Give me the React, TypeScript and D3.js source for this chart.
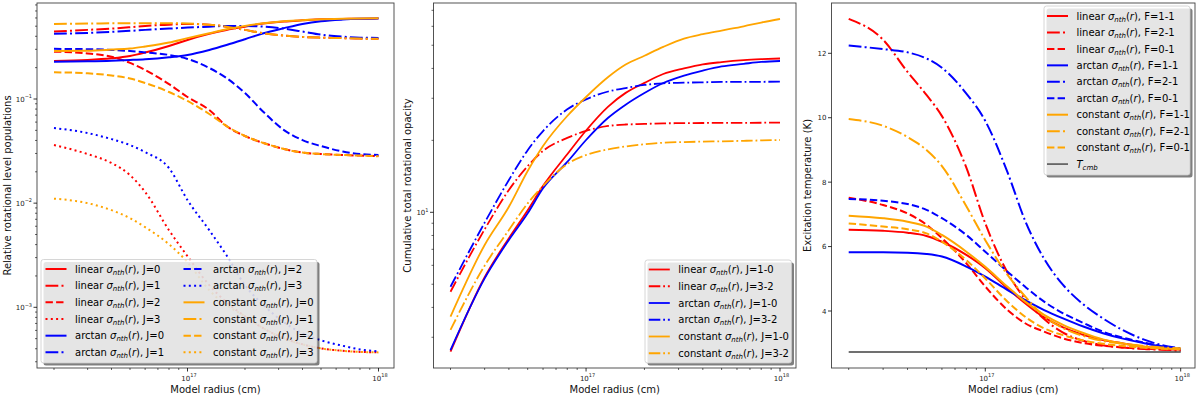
import React from "react";
import * as d3 from "d3";

// ---------------- DATA ----------------
const RADII = [2e16, 3e16, 4e16, 5e16, 6e16, 8e16, 1e17, 1.3e17, 1.6e17, 2e17, 2.5e17, 3.2e17, 4e17, 5e17, 6.5e17, 8e17, 1e18];

// Panel 1: relative rotational level populations
const POP_LINEAR_J0 = [0.232, 0.237, 0.246, 0.259, 0.279, 0.323, 0.369, 0.422, 0.46, 0.495, 0.53, 0.555, 0.569, 0.582, 0.587, 0.591, 0.595];
const POP_LINEAR_J1 = [0.444, 0.461, 0.474, 0.489, 0.503, 0.517, 0.526, 0.517, 0.495, 0.461, 0.428, 0.406, 0.394, 0.388, 0.384, 0.38, 0.379];
const POP_LINEAR_J2 = [0.285, 0.274, 0.254, 0.222, 0.19, 0.139, 0.1045, 0.0784, 0.055, 0.0441, 0.0378, 0.0331, 0.0306, 0.0296, 0.029, 0.0286, 0.0283];
const POP_LINEAR_J3 = [0.0361, 0.0296, 0.0243, 0.0186, 0.0128, 0.0055, 0.00309, 0.00163, 0.00112, 0.000819, 0.000628, 0.000504, 0.000441, 0.000403, 0.000382, 0.000373, 0.000369];
const POP_ARCTAN_J0 = [0.228, 0.23, 0.233, 0.237, 0.241, 0.252, 0.265, 0.296, 0.33, 0.375, 0.428, 0.479, 0.526, 0.559, 0.579, 0.588, 0.592];
const POP_ARCTAN_J1 = [0.422, 0.431, 0.441, 0.451, 0.461, 0.474, 0.485, 0.495, 0.503, 0.503, 0.495, 0.474, 0.444, 0.415, 0.397, 0.388, 0.386];
const POP_ARCTAN_J2 = [0.303, 0.301, 0.296, 0.289, 0.28, 0.265, 0.2425, 0.1987, 0.159, 0.114, 0.075, 0.0503, 0.0403, 0.0353, 0.0313, 0.0296, 0.029];
const POP_ARCTAN_J3 = [0.0526, 0.0471, 0.0412, 0.0361, 0.0309, 0.0217, 0.0107, 0.0055, 0.00316, 0.00163, 0.00105, 0.000718, 0.000562, 0.000482, 0.000427, 0.000394, 0.000378];
const POP_CONSTANT_J0 = [0.289, 0.291, 0.298, 0.305, 0.319, 0.348, 0.384, 0.428, 0.468, 0.503, 0.535, 0.559, 0.571, 0.584, 0.588, 0.592, 0.597];
const POP_CONSTANT_J1 = [0.526, 0.53, 0.535, 0.535, 0.535, 0.535, 0.53, 0.517, 0.495, 0.461, 0.428, 0.406, 0.394, 0.388, 0.384, 0.38, 0.378];
const POP_CONSTANT_J2 = [0.1806, 0.1766, 0.1683, 0.1574, 0.1426, 0.1167, 0.0957, 0.0718, 0.055, 0.0441, 0.0378, 0.0331, 0.0306, 0.0296, 0.029, 0.0286, 0.0282];
const POP_CONSTANT_J3 = [0.01105, 0.01, 0.00857, 0.00718, 0.00588, 0.00403, 0.00271, 0.00146, 0.00105, 0.000819, 0.000628, 0.000504, 0.000441, 0.000403, 0.000382, 0.000373, 0.000369];

// Panel 2: cumulative total rotational opacity
const TAU_LINEAR_10 = [2.61, 5.35, 7.79, 10.2, 12.9, 17.5, 22.0, 27.7, 31.6, 34.8, 37.9, 40.0, 41.6, 42.5, 43.3, 43.7, 44.0];
const TAU_LINEAR_32 = [4.65, 8.49, 12.4, 15.6, 18.07, 20.48, 21.9, 22.97, 23.3, 23.42, 23.57, 23.6, 23.64, 23.66, 23.68, 23.7, 23.71];
const TAU_ARCTAN_10 = [2.65, 5.29, 7.66, 9.9, 12.6, 16.24, 20.07, 24.86, 28.2, 31.56, 34.75, 37.35, 39.2, 40.8, 41.8, 42.56, 42.97];
const TAU_ARCTAN_32 = [4.88, 9.05, 13.65, 18.19, 21.88, 26.98, 29.7, 32.02, 33.1, 34.1, 34.65, 34.86, 34.99, 35.1, 35.13, 35.16, 35.2];
const TAU_CONSTANT_10 = [3.66, 7.3, 10.55, 14.89, 18.94, 25.29, 30.37, 36.8, 41.5, 45.2, 49.2, 53.3, 55.6, 57.6, 60.0, 62.2, 64.4];
const TAU_CONSTANT_32 = [3.22, 5.98, 8.43, 10.9, 12.88, 15.93, 17.37, 18.35, 18.85, 19.25, 19.55, 19.68, 19.76, 19.82, 19.91, 19.99, 20.07];

// Panel 3: excitation temperature (K)
const TEX_LINEAR_F11 = [6.52, 6.49, 6.43, 6.33, 6.15, 5.74, 5.33, 4.7, 4.24, 3.8, 3.49, 3.25, 3.1, 3.0, 2.89, 2.84, 2.8];
const TEX_LINEAR_F21 = [13.07, 12.42, 11.42, 10.71, 10.05, 8.45, 6.72, 5.19, 4.37, 3.75, 3.33, 3.07, 2.94, 2.87, 2.82, 2.8, 2.77];
const TEX_LINEAR_F01 = [7.52, 7.29, 7.03, 6.68, 6.26, 5.48, 4.76, 4.03, 3.62, 3.36, 3.15, 3.0, 2.92, 2.87, 2.83, 2.81, 2.8];
const TEX_ARCTAN_F11 = [5.82, 5.82, 5.81, 5.77, 5.69, 5.38, 5.07, 4.65, 4.34, 4.03, 3.77, 3.51, 3.31, 3.15, 3.0, 2.89, 2.81];
const TEX_ARCTAN_F21 = [12.24, 12.13, 12.03, 11.84, 11.55, 10.75, 9.9, 8.3, 6.8, 5.62, 4.81, 4.19, 3.77, 3.42, 3.11, 2.94, 2.84];
const TEX_ARCTAN_F01 = [7.48, 7.42, 7.32, 7.14, 6.88, 6.36, 5.84, 5.22, 4.75, 4.29, 3.93, 3.62, 3.36, 3.18, 3.02, 2.91, 2.82];
const TEX_CONSTANT_F11 = [6.96, 6.88, 6.77, 6.62, 6.36, 5.84, 5.37, 4.75, 4.29, 3.88, 3.57, 3.31, 3.12, 3.0, 2.89, 2.84, 2.81];
const TEX_CONSTANT_F21 = [9.96, 9.75, 9.4, 9.0, 8.5, 7.25, 6.2, 5.12, 4.45, 3.84, 3.47, 3.22, 3.07, 2.99, 2.92, 2.87, 2.84];
const TEX_CONSTANT_F01 = [6.72, 6.62, 6.54, 6.41, 6.15, 5.58, 5.01, 4.29, 3.82, 3.46, 3.25, 3.08, 2.98, 2.92, 2.86, 2.83, 2.81];
const T_CMB = 2.73;

const X_LABEL = "Model radius (cm)";
const Y_LABEL_POP = "Relative rotational level populations";
const Y_LABEL_TAU = "Cumulative total rotational opacity";
const Y_LABEL_TEX = "Excitation temperature (K)";
const TEX_TICKS = [4, 6, 8, 10, 12];

// ---------------- STYLE ----------------
const FONT = "'DejaVu Sans', Verdana, sans-serif";
const COLORS: Record<string, string> = { linear: "#ff0000", arctan: "#0000ff", constant: "#ffa500", cmb: "#000000" };
type LS = "solid" | "dashdot" | "dashed" | "dotted";

function dash(style: LS, lw: number): string | undefined {
  if (style === "dashed") return `${3.7 * lw},${1.6 * lw}`;
  if (style === "dashdot") return `${6.4 * lw},${1.6 * lw},${1 * lw},${1.6 * lw}`;
  if (style === "dotted") return `${1 * lw},${1.65 * lw}`;
  return undefined;
}

interface Series {
  model: string;
  tag: string;
  style: LS;
  values: number[];
  lw: number;
}

const POP_SERIES: Series[] = [
  { model: "linear", tag: "J=0", style: "solid", values: POP_LINEAR_J0, lw: 2 },
  { model: "linear", tag: "J=1", style: "dashdot", values: POP_LINEAR_J1, lw: 2 },
  { model: "linear", tag: "J=2", style: "dashed", values: POP_LINEAR_J2, lw: 2 },
  { model: "linear", tag: "J=3", style: "dotted", values: POP_LINEAR_J3, lw: 2 },
  { model: "arctan", tag: "J=0", style: "solid", values: POP_ARCTAN_J0, lw: 2 },
  { model: "arctan", tag: "J=1", style: "dashdot", values: POP_ARCTAN_J1, lw: 2 },
  { model: "arctan", tag: "J=2", style: "dashed", values: POP_ARCTAN_J2, lw: 2 },
  { model: "arctan", tag: "J=3", style: "dotted", values: POP_ARCTAN_J3, lw: 2 },
  { model: "constant", tag: "J=0", style: "solid", values: POP_CONSTANT_J0, lw: 2 },
  { model: "constant", tag: "J=1", style: "dashdot", values: POP_CONSTANT_J1, lw: 2 },
  { model: "constant", tag: "J=2", style: "dashed", values: POP_CONSTANT_J2, lw: 2 },
  { model: "constant", tag: "J=3", style: "dotted", values: POP_CONSTANT_J3, lw: 2 },
];

const TAU_SERIES: Series[] = [
  { model: "linear", tag: "J=1-0", style: "solid", values: TAU_LINEAR_10, lw: 1.8 },
  { model: "linear", tag: "J=3-2", style: "dashdot", values: TAU_LINEAR_32, lw: 1.8 },
  { model: "arctan", tag: "J=1-0", style: "solid", values: TAU_ARCTAN_10, lw: 1.8 },
  { model: "arctan", tag: "J=3-2", style: "dashdot", values: TAU_ARCTAN_32, lw: 1.8 },
  { model: "constant", tag: "J=1-0", style: "solid", values: TAU_CONSTANT_10, lw: 1.8 },
  { model: "constant", tag: "J=3-2", style: "dashdot", values: TAU_CONSTANT_32, lw: 1.8 },
];

const TEX_SERIES: Series[] = [
  { model: "linear", tag: "F=1-1", style: "solid", values: TEX_LINEAR_F11, lw: 2 },
  { model: "linear", tag: "F=2-1", style: "dashdot", values: TEX_LINEAR_F21, lw: 2 },
  { model: "linear", tag: "F=0-1", style: "dashed", values: TEX_LINEAR_F01, lw: 2 },
  { model: "arctan", tag: "F=1-1", style: "solid", values: TEX_ARCTAN_F11, lw: 2 },
  { model: "arctan", tag: "F=2-1", style: "dashdot", values: TEX_ARCTAN_F21, lw: 2 },
  { model: "arctan", tag: "F=0-1", style: "dashed", values: TEX_ARCTAN_F01, lw: 2 },
  { model: "constant", tag: "F=1-1", style: "solid", values: TEX_CONSTANT_F11, lw: 2 },
  { model: "constant", tag: "F=2-1", style: "dashdot", values: TEX_CONSTANT_F21, lw: 2 },
  { model: "constant", tag: "F=0-1", style: "dashed", values: TEX_CONSTANT_F01, lw: 2 },
  { model: "cmb", tag: "", style: "solid", values: RADII.map(() => T_CMB), lw: 1.5 },
];

interface Frame { x0: number; x1: number; y0: number; y1: number; }

function logTicks(min: number, max: number) {
  const out: { v: number; major: boolean; e: number }[] = [];
  const e0 = Math.floor(Math.log10(min)) - 1;
  const e1 = Math.ceil(Math.log10(max)) + 1;
  for (let e = e0; e <= e1; e++) {
    for (let m = 1; m <= 9; m++) {
      const v = m * Math.pow(10, e);
      if (v >= min * 0.9999 && v <= max * 1.0001) out.push({ v, major: m === 1, e });
    }
  }
  return out;
}

function Pow10({ x, y, e, anchor }: { x: number; y: number; e: number; anchor: "middle" | "end" }) {
  const s = e < 0 ? "\u2212" + Math.abs(e) : String(e);
  return (
    <text x={x} y={y} textAnchor={anchor} fontSize={7} fontFamily={FONT} fill="#222">
      10<tspan dy={-3.2} fontSize={5}>{s}</tspan>
    </text>
  );
}

function LegendLabel({ x, y, s }: { x: number; y: number; s: Series }) {
  if (s.model === "cmb") {
    return (
      <text x={x} y={y} fontSize={10} fontFamily={FONT} fill="#000">
        <tspan fontStyle="italic">T</tspan>
        <tspan fontStyle="italic" fontSize={7} dy={2}>cmb</tspan>
      </text>
    );
  }
  return (
    <text x={x} y={y} fontSize={10} fontFamily={FONT} fill="#000">
      {s.model + " "}
      <tspan fontStyle="italic">σ</tspan>
      <tspan fontStyle="italic" fontSize={7} dy={2}>nth</tspan>
      <tspan dy={-2}>(</tspan>
      <tspan fontStyle="italic">r</tspan>
      <tspan>{"), " + s.tag}</tspan>
    </text>
  );
}

interface LegendCfg { x: number; y: number; w: number; h: number; row0: number; step: number; rows: number; colX: number[]; }

function Legend({ cfg, series }: { cfg: LegendCfg; series: Series[] }) {
  return (
    <g>
      <rect x={cfg.x + 2.5} y={cfg.y + 2.5} width={cfg.w} height={cfg.h} rx={2.5} fill="#000" fillOpacity={0.5} />
      <rect x={cfg.x} y={cfg.y} width={cfg.w} height={cfg.h} rx={2.5} fill="#fff" fillOpacity={0.8} stroke="#cccccc" strokeWidth={0.8} />
      {series.map((s, i) => {
        const col = Math.floor(i / cfg.rows);
        const row = i % cfg.rows;
        const cx = cfg.x + cfg.colX[col];
        const cy = cfg.row0 + row * cfg.step;
        const lw = s.model === "cmb" ? 1 : s.lw;
        return (
          <g key={i}>
            <line x1={cx} x2={cx + 21} y1={cy} y2={cy} stroke={COLORS[s.model]} strokeWidth={lw} strokeDasharray={dash(s.style, lw)} />
            <LegendLabel x={cx + 29.5} y={cy + 3.6} s={s} />
          </g>
        );
      })}
    </g>
  );
}

interface PanelProps {
  id: string;
  frame: Frame;
  x: d3.ScaleLogarithmic<number, number>;
  y: any;
  yLog: boolean;
  series: Series[];
  yLabel: string;
  yLabelX: number;
  legend: LegendCfg;
  linearTicks?: number[];
}

function Panel(p: PanelProps) {
  const { frame: f, x, y } = p;
  const line = d3
    .line<number>()
    .x((_, i) => x(RADII[i]))
    .y((d) => y(d))
    .curve(d3.curveMonotoneX);

  const xMin = x.invert(f.x0), xMax = x.invert(f.x1);
  const xt = logTicks(xMin, xMax);
  let yTickEls: React.ReactNode[] = [];
  if (p.yLog) {
    const a = y.invert(f.y1), b = y.invert(f.y0);
    const yt = logTicks(Math.min(a, b), Math.max(a, b));
    yTickEls = yt.map((t, i) => (
      <g key={"yt" + i}>
        <line x1={f.x0} x2={f.x0 - (t.major ? 3.5 : 2)} y1={y(t.v)} y2={y(t.v)} stroke="#000" strokeWidth={t.major ? 0.8 : 0.6} />
        {t.major && <Pow10 x={f.x0 - 5} y={y(t.v) + 2.5} e={t.e} anchor="end" />}
      </g>
    ));
  } else {
    yTickEls = (p.linearTicks || []).map((v, i) => (
      <g key={"yt" + i}>
        <line x1={f.x0} x2={f.x0 - 3.5} y1={y(v)} y2={y(v)} stroke="#000" strokeWidth={0.8} />
        <text x={f.x0 - 5} y={y(v) + 2.5} textAnchor="end" fontSize={7} fontFamily={FONT} fill="#222">{v}</text>
      </g>
    ));
  }

  const cx = (f.x0 + f.x1) / 2;
  const cy = (f.y0 + f.y1) / 2;
  return (
    <g>
      <defs>
        <clipPath id={"clip-" + p.id}>
          <rect x={f.x0} y={f.y0} width={f.x1 - f.x0} height={f.y1 - f.y0} />
        </clipPath>
      </defs>
      <g clipPath={`url(#clip-${p.id})`}>
        {p.series.map((s, i) => (
          <path
            key={i}
            d={line(s.values) || ""}
            fill="none"
            stroke={COLORS[s.model]}
            strokeWidth={s.lw}
            strokeDasharray={dash(s.style, s.lw)}
            opacity={s.model === "cmb" ? 0.75 : 1}
          />
        ))}
      </g>
      <rect x={f.x0} y={f.y0} width={f.x1 - f.x0} height={f.y1 - f.y0} fill="none" stroke="#000" strokeOpacity={0.75} strokeWidth={0.9} />
      {xt.map((t, i) => (
        <g key={"xt" + i}>
          <line x1={x(t.v)} x2={x(t.v)} y1={f.y1} y2={f.y1 + (t.major ? 3.5 : 2)} stroke="#000" strokeWidth={t.major ? 0.8 : 0.6} />
          {t.major && <Pow10 x={x(t.v) + 1.5} y={f.y1 + 12.5} e={t.e} anchor="middle" />}
        </g>
      ))}
      {yTickEls}
      <text x={cx} y={393} textAnchor="middle" fontSize={10} fontFamily={FONT} fill="#111">{X_LABEL}</text>
      <text transform={`translate(${p.yLabelX},${cy}) rotate(-90)`} textAnchor="middle" fontSize={10} fontFamily={FONT} fill="#111">{p.yLabel}</text>
      <Legend cfg={p.legend} series={p.series} />
    </g>
  );
}

export default function App() {
  const f1: Frame = { x0: 37, x1: 394, y0: 3, y1: 368 };
  const f2: Frame = { x0: 433.5, x1: 796, y0: 3, y1: 368 };
  const f3: Frame = { x0: 831.5, x1: 1195, y0: 3, y1: 368 };

  const x1 = d3.scaleLog().domain([2e16, 1e18]).range([54, 378.5]);
  const y1 = d3.scaleLog().domain([1e-3, 1e-1]).range([307.3, 99]);

  const x2 = d3.scaleLog().domain([2e16, 1e18]).range([450.5, 780]);
  const y2 = d3.scaleLog().domain([10, 100]).range([212.3, -26.7]);

  const x3 = d3.scaleLog().domain([2e16, 1e18]).range([848.7, 1180.7]);
  const y3 = d3.scaleLinear().domain([4, 12]).range([311, 53.3]);

  const leg1: LegendCfg = { x: 41, y: 259.5, w: 276, h: 103.5, row0: 269, step: 16.67, rows: 6, colX: [4.5, 142.5] };
  const leg2: LegendCfg = { x: 645, y: 260, w: 146.5, h: 103, row0: 269.5, step: 16.75, rows: 6, colX: [3.8] };
  const leg3: LegendCfg = { x: 1044, y: 6, w: 146, h: 169, row0: 16, step: 16.45, rows: 10, colX: [3] };

  return (
    <svg width={1200} height={397} style={{ position: "absolute", left: 0, top: 0, background: "#fff", display: "block" }}>
      <rect x={0} y={0} width={1200} height={397} fill="#fff" />
      <Panel id="p1" frame={f1} x={x1} y={y1} yLog series={POP_SERIES} yLabel={Y_LABEL_POP} yLabelX={11} legend={leg1} />
      <Panel id="p2" frame={f2} x={x2} y={y2} yLog series={TAU_SERIES} yLabel={Y_LABEL_TAU} yLabelX={411} legend={leg2} />
      <Panel id="p3" frame={f3} x={x3} y={y3} yLog={false} linearTicks={TEX_TICKS} series={TEX_SERIES} yLabel={Y_LABEL_TEX} yLabelX={811} legend={leg3} />
    </svg>
  );
}
